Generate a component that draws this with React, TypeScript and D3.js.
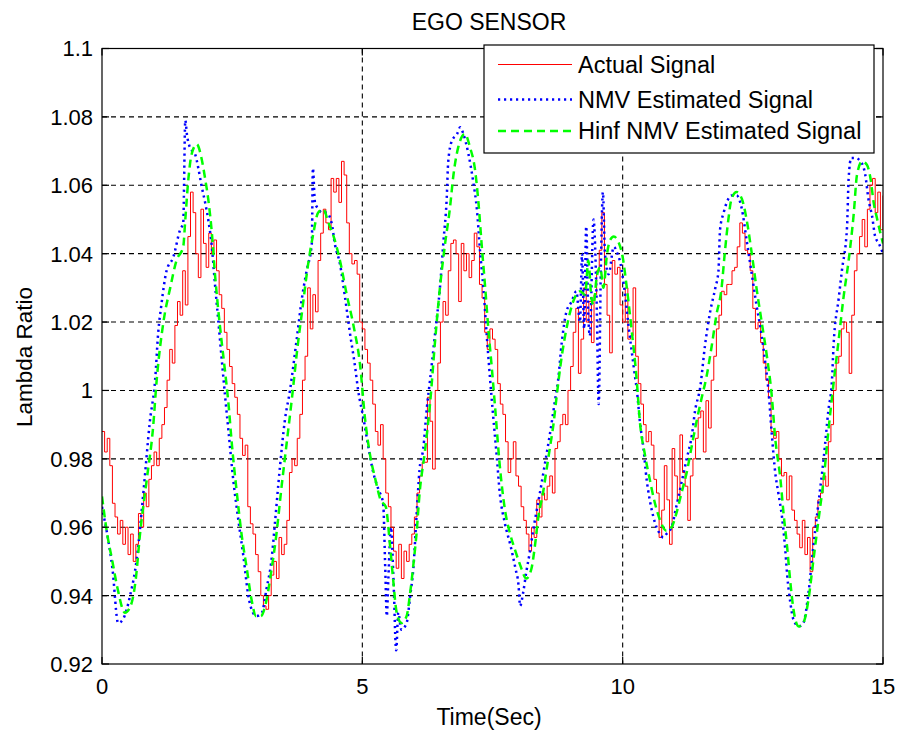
import React from 'react';
import * as d3 from 'd3';

// Actual (measured) lambda signal, sampled every 0.05 s from t = 0 to 15 s
const actualStep = 0.05;
const actualSignal = [
  0.988, 0.982, 0.986, 0.978, 0.967, 0.963, 0.958, 0.962, 0.955, 0.960, 0.952, 0.958, 0.950, 0.955, 0.964, 0.960, 0.970, 0.966, 0.974, 0.978,
  0.982, 0.978, 0.986, 0.990, 0.995, 1.003, 1.012, 1.008, 1.019, 1.026, 1.022, 1.035, 1.025, 1.045, 1.058, 1.052, 1.040, 1.033, 1.053, 1.043,
  1.036, 1.046, 1.040, 1.044, 1.035, 1.028, 1.024, 1.017, 1.012, 1.007, 1.002, 0.998, 0.993, 0.986, 0.981, 0.984, 0.966, 0.961, 0.958, 0.952,
  0.947, 0.940, 0.937, 0.936, 0.940, 0.946, 0.950, 0.945, 0.957, 0.952, 0.955, 0.962, 0.976, 0.980, 0.978, 0.986, 0.993, 1.003, 1.010, 1.030,
  1.018, 1.028, 1.023, 1.038, 1.046, 1.053, 1.049, 1.047, 1.062, 1.058, 1.062, 1.055, 1.067, 1.063, 1.049, 1.040, 1.037, 1.038, 1.034, 1.020,
  1.018, 1.012, 1.008, 1.003, 0.996, 0.988, 0.984, 0.990, 0.980, 0.970, 0.966, 0.960, 0.953, 0.948, 0.955, 0.945, 0.953, 0.950, 0.955, 0.958,
  0.963, 0.970, 0.975, 0.979, 0.979, 0.998, 0.991, 0.977, 1.000, 1.008, 1.020, 1.026, 1.022, 1.035, 1.043, 1.044, 1.040, 1.026, 1.043, 1.035,
  1.040, 1.033, 1.038, 1.046, 1.042, 1.031, 1.027, 1.017, 1.012, 1.018, 1.015, 1.012, 1.002, 0.996, 0.993, 0.985, 0.976, 0.980, 0.985, 0.975,
  0.972, 0.966, 0.962, 0.958, 0.953, 0.960, 0.957, 0.968, 0.963, 0.970, 0.968, 0.972, 0.975, 0.970, 0.983, 0.985, 0.990, 0.993, 0.990, 1.000,
  1.007, 1.017, 1.024, 1.005, 1.015, 1.030, 1.020, 1.026, 1.014, 1.028, 1.035, 1.041, 1.052, 1.031, 1.022, 1.011, 1.038, 1.034, 1.036, 1.025,
  1.020, 1.030, 1.015, 1.016, 1.030, 1.010, 1.002, 0.996, 0.990, 0.985, 0.988, 0.984, 0.974, 0.970, 0.957, 0.965, 0.978, 0.968, 0.955, 0.983,
  0.975, 0.968, 0.987, 0.976, 0.972, 0.962, 0.975, 0.980, 0.986, 0.992, 0.994, 0.982, 0.997, 0.989, 1.003, 1.010, 1.018, 1.022, 1.029, 1.028,
  1.031, 1.031, 1.035, 1.036, 1.042, 1.049, 1.046, 1.041, 1.040, 1.035, 1.024, 1.018, 1.020, 1.014, 1.008, 1.003, 0.998, 0.988, 0.986, 0.988,
  0.980, 0.975, 0.976, 0.968, 0.975, 0.965, 0.962, 0.958, 0.954, 0.962, 0.952, 0.957, 0.947, 0.960, 0.963, 0.968, 0.970, 0.975, 0.972, 0.985,
  0.990, 1.000, 1.008, 1.010, 1.018, 1.020, 1.017, 1.005, 1.022, 1.035, 1.040, 1.045, 1.050, 1.042, 1.053, 1.060, 1.062, 1.052, 1.058, 1.047,
  1.057,
];

// NMV estimate: sample times (s) and values
const nmvTime = [
  0.00, 0.05, 0.10, 0.20, 0.31, 0.40, 0.54, 0.67, 0.80, 0.92, 1.02, 1.08, 1.14, 1.24, 1.37, 1.50, 1.56, 1.60, 1.63, 1.69,
  1.79, 1.85, 1.91, 1.98, 2.04, 2.11, 2.17, 2.23, 2.30, 2.36, 2.43, 2.52, 2.62, 2.72, 2.81, 2.90, 2.97, 3.07, 3.16, 3.26,
  3.32, 3.42, 3.51, 3.61, 3.74, 3.84, 3.93, 4.03, 4.05, 4.09, 4.16, 4.22, 4.31, 4.41, 4.47, 4.57, 4.67, 4.76, 4.86, 4.92,
  5.02, 5.11, 5.21, 5.31, 5.40, 5.44, 5.47, 5.50, 5.55, 5.60, 5.65, 5.69, 5.75, 5.85, 5.92, 5.98, 6.04, 6.10, 6.17, 6.24,
  6.30, 6.40, 6.49, 6.56, 6.62, 6.65, 6.72, 6.82, 6.88, 6.94, 7.04, 7.13, 7.20, 7.26, 7.33, 7.39, 7.45, 7.51, 7.58, 7.64,
  7.74, 7.84, 7.94, 8.00, 8.03, 8.09, 8.15, 8.22, 8.28, 8.35, 8.41, 8.50, 8.60, 8.70, 8.76, 8.83, 8.92, 9.02, 9.11, 9.18,
  9.22, 9.26, 9.30, 9.34, 9.37, 9.44, 9.50, 9.54, 9.58, 9.62, 9.66, 9.73, 9.83, 9.90, 9.96, 10.03, 10.12, 10.22, 10.28, 10.33,
  10.40, 10.46, 10.52, 10.59, 10.65, 10.72, 10.78, 10.84, 10.94, 11.03, 11.13, 11.23, 11.33, 11.39, 11.49, 11.58, 11.68, 11.78, 11.84, 11.87,
  11.94, 12.00, 12.09, 12.19, 12.29, 12.38, 12.48, 12.57, 12.67, 12.74, 12.80, 12.86, 12.93, 12.99, 13.06, 13.12, 13.16, 13.22, 13.28, 13.38,
  13.47, 13.57, 13.66, 13.76, 13.86, 13.95, 14.02, 14.05, 14.15, 14.21, 14.31, 14.34, 14.39, 14.47, 14.57, 14.66, 14.72, 14.79, 14.85, 14.92,
  15.00,
];
const nmvValue = [
  0.966, 0.962, 0.958, 0.948, 0.932, 0.933, 0.940, 0.951, 0.971, 0.991, 1.003, 1.017, 1.025, 1.035, 1.039, 1.047, 1.049, 1.079, 1.075, 1.071,
  1.069, 1.065, 1.060, 1.055, 1.050, 1.042, 1.031, 1.021, 1.009, 0.999, 0.988, 0.974, 0.962, 0.951, 0.940, 0.935, 0.934, 0.935, 0.942, 0.951,
  0.961, 0.978, 0.991, 1.000, 1.015, 1.027, 1.035, 1.043, 1.065, 1.055, 1.053, 1.052, 1.052, 1.049, 1.043, 1.037, 1.027, 1.017, 1.007, 1.000,
  0.992, 0.984, 0.976, 0.971, 0.967, 0.948, 0.934, 0.945, 0.960, 0.944, 0.924, 0.935, 0.930, 0.932, 0.940, 0.948, 0.963, 0.977, 0.983, 0.995,
  1.003, 1.017, 1.030, 1.044, 1.056, 1.067, 1.073, 1.075, 1.077, 1.075, 1.069, 1.061, 1.053, 1.041, 1.029, 1.016, 1.004, 0.993, 0.981, 0.970,
  0.961, 0.955, 0.948, 0.943, 0.937, 0.941, 0.947, 0.953, 0.959, 0.965, 0.970, 0.978, 0.987, 0.997, 1.003, 1.014, 1.023, 1.026, 1.029, 1.020,
  1.040, 1.018, 1.048, 1.022, 1.016, 1.050, 1.026, 0.996, 1.035, 1.058, 1.040, 1.034, 1.042, 1.040, 1.037, 1.030, 1.018, 1.006, 0.999, 0.991,
  0.983, 0.974, 0.968, 0.963, 0.960, 0.958, 0.957, 0.958, 0.960, 0.966, 0.973, 0.980, 0.987, 0.994, 1.001, 1.013, 1.023, 1.030, 1.035, 1.047,
  1.052, 1.055, 1.057, 1.057, 1.053, 1.044, 1.034, 1.025, 1.016, 1.008, 1.000, 0.988, 0.976, 0.970, 0.963, 0.954, 0.946, 0.938, 0.933, 0.931,
  0.932, 0.941, 0.954, 0.967, 0.980, 0.994, 1.003, 1.013, 1.027, 1.035, 1.048, 1.062, 1.068, 1.068, 1.067, 1.063, 1.056, 1.051, 1.045, 1.043,
  1.040,
];

// Hinf NMV estimate: sample times (s) and values
const hinfTime = [
  0.00, 0.10, 0.20, 0.30, 0.44, 0.55, 0.65, 0.73, 0.86, 0.98, 1.05, 1.18, 1.31, 1.43, 1.56, 1.60, 1.66, 1.72, 1.82, 1.91,
  1.98, 2.04, 2.11, 2.17, 2.23, 2.30, 2.36, 2.43, 2.49, 2.59, 2.68, 2.78, 2.87, 2.96, 3.05, 3.15, 3.25, 3.35, 3.45, 3.55,
  3.65, 3.75, 3.85, 3.95, 4.06, 4.15, 4.25, 4.35, 4.45, 4.57, 4.70, 4.83, 4.96, 5.05, 5.15, 5.25, 5.35, 5.45, 5.53, 5.59,
  5.66, 5.75, 5.85, 5.92, 5.98, 6.04, 6.10, 6.20, 6.30, 6.40, 6.49, 6.59, 6.68, 6.75, 6.84, 6.97, 7.07, 7.16, 7.23, 7.29,
  7.36, 7.42, 7.49, 7.55, 7.64, 7.74, 7.84, 7.94, 8.03, 8.15, 8.25, 8.31, 8.38, 8.47, 8.54, 8.60, 8.67, 8.73, 8.83, 8.92,
  9.05, 9.18, 9.28, 9.34, 9.40, 9.44, 9.50, 9.57, 9.63, 9.70, 9.76, 9.83, 9.90, 10.00, 10.08, 10.17, 10.27, 10.33, 10.43, 10.52,
  10.62, 10.72, 10.84, 10.94, 11.03, 11.13, 11.23, 11.33, 11.42, 11.52, 11.61, 11.71, 11.80, 11.90, 11.96, 12.03, 12.09, 12.19, 12.29, 12.38,
  12.48, 12.57, 12.67, 12.77, 12.86, 12.93, 13.03, 13.09, 13.16, 13.22, 13.28, 13.38, 13.47, 13.57, 13.66, 13.76, 13.86, 13.95, 14.05, 14.15,
  14.24, 14.34, 14.44, 14.50, 14.60, 14.69, 14.76, 14.82, 14.89, 14.95, 15.00,
];
const hinfValue = [
  0.969, 0.958, 0.950, 0.942, 0.935, 0.937, 0.945, 0.958, 0.974, 0.989, 1.003, 1.020, 1.030, 1.038, 1.042, 1.050, 1.062, 1.069, 1.072, 1.068,
  1.062, 1.056, 1.046, 1.034, 1.024, 1.014, 1.006, 0.996, 0.985, 0.970, 0.958, 0.948, 0.939, 0.934, 0.934, 0.938, 0.947, 0.958, 0.972, 0.985,
  0.998, 1.012, 1.024, 1.036, 1.046, 1.052, 1.053, 1.049, 1.045, 1.038, 1.028, 1.019, 1.007, 0.992, 0.981, 0.974, 0.968, 0.966, 0.955, 0.945,
  0.935, 0.932, 0.934, 0.941, 0.949, 0.958, 0.970, 0.982, 0.996, 1.015, 1.030, 1.043, 1.053, 1.063, 1.071, 1.075, 1.071, 1.065, 1.055, 1.043,
  1.030, 1.018, 1.006, 0.995, 0.978, 0.965, 0.958, 0.953, 0.949, 0.945, 0.948, 0.954, 0.963, 0.970, 0.977, 0.983, 0.990, 0.998, 1.010, 1.018,
  1.026, 1.029, 1.028, 1.038, 1.027, 1.025, 1.033, 1.036, 1.030, 1.040, 1.044, 1.045, 1.044, 1.039, 1.030, 1.018, 1.003, 0.991, 0.981, 0.974,
  0.967, 0.962, 0.959, 0.960, 0.964, 0.970, 0.976, 0.984, 0.991, 0.998, 1.004, 1.013, 1.022, 1.030, 1.040, 1.050, 1.056, 1.058, 1.056, 1.050,
  1.040, 1.030, 1.020, 1.010, 0.999, 0.986, 0.974, 0.964, 0.954, 0.944, 0.936, 0.931, 0.932, 0.939, 0.950, 0.962, 0.974, 0.988, 1.002, 1.015,
  1.027, 1.038, 1.052, 1.063, 1.067, 1.066, 1.062, 1.055, 1.050, 1.046, 1.043,
];

const xTicks = [0, 5, 10, 15];
const yTicks = [0.92, 0.94, 0.96, 0.98, 1.0, 1.02, 1.04, 1.06, 1.08, 1.1];
const yTickLabels = ['0.92', '0.94', '0.96', '0.98', '1', '1.02', '1.04', '1.06', '1.08', '1.1'];
const chartTitle = 'EGO SENSOR';
const xAxisTitle = 'Time(Sec)';
const yAxisTitle = 'Lambda Ratio';
const seriesLabels = ['Actual Signal', 'NMV Estimated Signal', 'Hinf NMV Estimated Signal'];

const W = 898;
const H = 734;
const plot = { left: 102, right: 883, top: 48.5, bottom: 664 };
const FONT = '"Liberation Sans", Arial, sans-serif';

type Pt = [number, number];

export default function App() {
  const x = d3.scaleLinear().domain([0, 15]).range([plot.left, plot.right]);
  const y = d3.scaleLinear().domain([0.92, 1.1]).range([plot.bottom, plot.top]);

  const actualPts: Pt[] = actualSignal.map((v, i) => [i * actualStep, v]);
  const nmvPts: Pt[] = nmvTime.map((t, i) => [t, nmvValue[i]]);
  const hinfPts: Pt[] = hinfTime.map((t, i) => [t, hinfValue[i]]);

  const stepLine = d3
    .line<Pt>()
    .x((d) => x(d[0]))
    .y((d) => y(d[1]))
    .curve(d3.curveStepAfter);
  const smoothLine = d3
    .line<Pt>()
    .x((d) => x(d[0]))
    .y((d) => y(d[1]))
    .curve(d3.curveMonotoneX);

  const series = [
    { label: seriesLabels[0], color: '#ff0000', width: 1, dash: undefined as string | undefined },
    { label: seriesLabels[1], color: '#0000ff', width: 2.5, dash: '2.2,3.8' },
    { label: seriesLabels[2], color: '#00ff00', width: 2.5, dash: '8,5' },
  ];

  const gridDash = '5,4';
  const tickLen = 7;
  const legend = { x0: 484, x1: 874, y0: 45, y1: 153, rows: [64.5, 99.5, 131] };
  const cx = 489;

  return (
    <svg
      width={W}
      height={H}
      viewBox={`0 0 ${W} ${H}`}
      style={{ position: 'absolute', left: 0, top: 0, background: '#fff' }}
      fontFamily={FONT}
    >
      <defs>
        <clipPath id="plot-area">
          <rect x={plot.left} y={plot.top} width={plot.right - plot.left} height={plot.bottom - plot.top} />
        </clipPath>
      </defs>
      <rect x={0} y={0} width={W} height={H} fill="#fff" />

      {/* grid */}
      <g stroke="#000" strokeWidth={1.1} strokeDasharray={gridDash}>
        {xTicks.slice(1, -1).map((t) => (
          <line key={`gx${t}`} x1={x(t)} x2={x(t)} y1={plot.top} y2={plot.bottom} />
        ))}
        {yTicks.slice(1, -1).map((t) => (
          <line key={`gy${t}`} x1={plot.left} x2={plot.right} y1={y(t)} y2={y(t)} />
        ))}
      </g>

      {/* data */}
      <g clipPath="url(#plot-area)" fill="none" strokeLinejoin="miter">
        <path d={stepLine(actualPts) || ''} stroke={series[0].color} strokeWidth={series[0].width} />
        <path
          d={smoothLine(nmvPts) || ''}
          stroke={series[1].color}
          strokeWidth={series[1].width}
          strokeDasharray={series[1].dash}
        />
        <path
          d={smoothLine(hinfPts) || ''}
          stroke={series[2].color}
          strokeWidth={series[2].width}
          strokeDasharray={series[2].dash}
        />
      </g>

      {/* axes box and ticks */}
      <g stroke="#000" strokeWidth={1.2}>
        <rect
          x={plot.left}
          y={plot.top}
          width={plot.right - plot.left}
          height={plot.bottom - plot.top}
          fill="none"
        />
        {xTicks.map((t) => (
          <g key={`tx${t}`}>
            <line x1={x(t)} x2={x(t)} y1={plot.bottom} y2={plot.bottom - tickLen} />
            <line x1={x(t)} x2={x(t)} y1={plot.top} y2={plot.top + tickLen} />
          </g>
        ))}
        {yTicks.map((t) => (
          <g key={`ty${t}`}>
            <line x1={plot.left} x2={plot.left + tickLen} y1={y(t)} y2={y(t)} />
            <line x1={plot.right} x2={plot.right - tickLen} y1={y(t)} y2={y(t)} />
          </g>
        ))}
      </g>

      {/* tick labels */}
      <g fill="#000" fontSize={22}>
        {xTicks.map((t) => (
          <text key={`lx${t}`} x={x(t)} y={plot.bottom + 30} textAnchor="middle">
            {t}
          </text>
        ))}
        {yTicks.map((t, i) => (
          <text key={`ly${t}`} x={plot.left - 9} y={y(t)} dy="0.36em" textAnchor="end">
            {yTickLabels[i]}
          </text>
        ))}
      </g>

      {/* titles */}
      <text x={cx} y={29.5} textAnchor="middle" fontSize={23} fill="#000">
        {chartTitle}
      </text>
      <text x={cx} y={725} textAnchor="middle" fontSize={23} fill="#000">
        {xAxisTitle}
      </text>
      <text
        transform={`translate(31.5, 357) rotate(-90)`}
        textAnchor="middle"
        fontSize={22.5}
        fill="#000"
      >
        {yAxisTitle}
      </text>

      {/* legend */}
      <g>
        <rect
          x={legend.x0}
          y={legend.y0}
          width={legend.x1 - legend.x0}
          height={legend.y1 - legend.y0}
          fill="#fff"
          stroke="#000"
          strokeWidth={1.2}
        />
        {series.map((s, i) => (
          <g key={s.label}>
            <line
              x1={498}
              x2={572}
              y1={legend.rows[i]}
              y2={legend.rows[i]}
              stroke={s.color}
              strokeWidth={s.width}
              strokeDasharray={s.dash}
            />
            <text x={578} y={legend.rows[i]} dy="0.36em" fontSize={23.5} fill="#000">
              {s.label}
            </text>
          </g>
        ))}
      </g>
    </svg>
  );
}
